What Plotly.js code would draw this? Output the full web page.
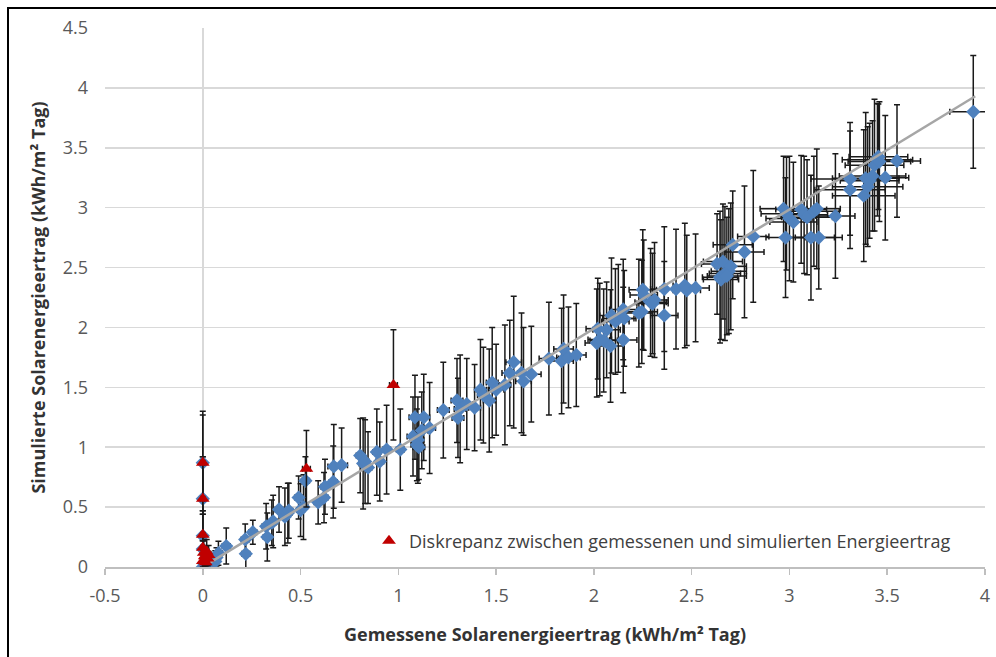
<!DOCTYPE html>
<html>
<head>
<meta charset="utf-8">
<script src="https://cdn.plot.ly/plotly-3.0.1.min.js"></script>
<style>
html,body{margin:0;padding:0;background:#fff;}
#wrap{position:relative;width:996px;height:657px;}
#frame{position:absolute;left:7px;top:7px;width:989px;height:650px;border-left:2px solid #000;border-top:2px solid #000;pointer-events:none;z-index:5;}
#chart{position:absolute;left:0;top:0;width:996px;height:657px;}
</style>
</head>
<body>
<div id="wrap"><div id="chart"></div><div id="frame"></div></div>
<script>
// Measured (x) and simulated (y) solar energy yield, kWh/m² per day
const measuredX = [
 0.00,0.01,0.02,0.03,0.04,0.05,0.064,0.08,0.07,0.12,
 0.217,0.22,0.256,0.324,0.33,0.353,0.36,0.39,0.42,0.435,
 0.44,0.49,0.50,0.515,0.525,0.59,0.62,0.625,0.667,0.67,
 0.71,0.805,0.82,0.845,0.83,0.89,0.905,0.94,1.01,0.00,
 0.00,0.00,0.00,1.085,1.075,1.095,1.10,1.12,1.13,1.16,
 1.105,1.23,1.30,1.305,1.316,1.35,1.39,1.42,1.435,1.465,
 1.48,1.50,1.545,1.57,1.59,1.63,1.64,1.68,1.77,1.835,
 1.845,1.87,1.91,2.015,2.02,2.03,2.05,2.065,2.085,2.09,
 2.11,2.125,2.15,2.155,2.15,2.23,2.245,2.25,2.255,2.29,
 2.30,2.31,2.36,2.36,2.42,2.465,2.475,2.52,2.63,2.645,
 2.66,2.67,2.69,2.70,2.65,2.68,2.71,2.77,2.815,2.97,
 2.98,2.985,3.00,3.02,3.06,3.075,3.09,3.11,3.125,3.14,
 3.15,3.235,3.31,3.31,3.38,3.39,3.40,3.41,3.425,3.435,
 3.45,3.455,3.46,3.49,3.55,3.94
];
const simulatedY = [
 0.00,0.02,0.03,0.05,0.02,0.04,0.045,0.115,0.08,0.175,
 0.23,0.11,0.29,0.34,0.25,0.37,0.38,0.48,0.42,0.45,
 0.47,0.58,0.475,0.50,0.72,0.54,0.58,0.67,0.71,0.84,
 0.85,0.93,0.865,0.83,0.88,0.96,0.88,0.98,0.98,0.87,
 0.57,0.26,0.15,1.25,1.09,1.02,1.06,1.14,1.25,1.16,
 1.00,1.31,1.39,1.245,1.32,1.36,1.33,1.48,1.435,1.39,
 1.54,1.48,1.52,1.62,1.71,1.62,1.55,1.61,1.74,1.72,
 1.82,1.75,1.77,1.87,1.99,1.90,1.89,1.98,1.845,2.10,
 2.05,2.075,2.15,2.075,1.895,2.12,2.13,2.315,2.27,2.21,
 2.20,2.23,2.10,2.32,2.32,2.35,2.31,2.33,2.53,2.42,
 2.55,2.45,2.47,2.51,2.40,2.43,2.69,2.63,2.76,2.99,
 2.75,2.95,2.91,2.88,2.985,2.94,2.92,2.75,2.97,2.99,
 2.75,2.93,3.24,3.15,3.10,3.245,3.175,3.225,3.265,3.355,
 3.40,3.425,3.385,3.25,3.39,3.80
];
const errSim = [
 0.03,0.05,0.06,0.08,0.05,0.07,0.09,0.10,0.08,0.15,
 0.13,0.12,0.10,0.19,0.20,0.19,0.22,0.19,0.24,0.25,
 0.23,0.18,0.22,0.27,0.20,0.18,0.21,0.23,0.30,0.35,
 0.31,0.31,0.38,0.30,0.35,0.36,0.33,0.37,0.34,0.40,
 0.35,0.18,0.12,0.35,0.33,0.30,0.36,0.32,0.36,0.38,
 0.27,0.40,0.35,0.33,0.45,0.38,0.36,0.42,0.40,0.43,
 0.46,0.38,0.50,0.44,0.55,0.50,0.45,0.40,0.47,0.44,
 0.45,0.42,0.43,0.45,0.42,0.47,0.43,0.40,0.47,0.48,
 0.44,0.45,0.42,0.40,0.44,0.45,0.43,0.50,0.46,0.45,
 0.42,0.48,0.45,0.52,0.50,0.52,0.46,0.45,0.42,0.55,
 0.48,0.56,0.52,0.53,0.50,0.49,0.45,0.55,0.55,0.44,
 0.50,0.47,0.52,0.50,0.45,0.49,0.48,0.52,0.46,0.50,
 0.43,0.52,0.47,0.49,0.55,0.55,0.50,0.48,0.46,0.55,
 0.47,0.44,0.50,0.52,0.47,0.47
];
const errMeas = [
 0.01,0.01,0.01,0.01,0.01,0.015,0.015,0.02,0.02,0.02,
 0.02,0.02,0.02,0.02,0.02,0.02,0.02,0.02,0.02,0.02,
 0.02,0.02,0.02,0.02,0.02,0.02,0.02,0.02,0.02,0.03,
 0.03,0.02,0.02,0.02,0.02,0.02,0.02,0.02,0.02,0.01,
 0.01,0.01,0.01,0.03,0.03,0.03,0.03,0.03,0.03,0.03,
 0.03,0.03,0.03,0.03,0.03,0.03,0.03,0.03,0.03,0.03,
 0.03,0.04,0.03,0.04,0.04,0.04,0.04,0.05,0.05,0.06,
 0.05,0.06,0.05,0.06,0.06,0.06,0.07,0.07,0.07,0.06,
 0.07,0.08,0.07,0.06,0.07,0.07,0.08,0.07,0.07,0.08,
 0.08,0.07,0.07,0.07,0.08,0.06,0.07,0.07,0.08,0.09,
 0.10,0.08,0.09,0.08,0.09,0.10,0.10,0.10,0.08,0.12,
 0.10,0.13,0.12,0.12,0.13,0.12,0.13,0.12,0.13,0.12,
 0.12,0.10,0.20,0.18,0.16,0.17,0.18,0.15,0.17,0.15,
 0.18,0.15,0.16,0.12,0.12,0.12
];
// Points with discrepancy between measured and simulated yield
const discX = [0.00,0.00,0.00,0.00,0.005,0.01,0.02,0.025,0.00,0.015,0.03,0.53,0.975];
const discY = [0.87,0.57,0.27,0.16,0.12,0.09,0.13,0.07,0.05,0.04,0.10,0.82,1.52];
const discErrY = [0.43,0.35,0.20,0.12,0.10,0.08,0.10,0.06,0.05,0.04,0.08,0.32,0.46];
const discErrX = [0.01,0.01,0.01,0.01,0.01,0.01,0.01,0.01,0.01,0.01,0.01,0.02,0.02];
// Linear trend line
const trendX = [0.02, 3.95];
const trendY = [0.02, 3.93];

const xTicks = [-0.5,0,0.5,1,1.5,2,2.5,3,3.5,4];
const yTicks = [0,0.5,1,1.5,2,2.5,3,3.5,4,4.5];

const errStyle = {color:'#1a1a1a', thickness:1.5, width:3};

const traces = [
 {
  x: measuredX, y: simulatedY, type:'scatter', mode:'markers', showlegend:false,
  marker:{symbol:'diamond', size:11, color:'#4F81BD'},
  error_y:Object.assign({type:'data', array:errSim, visible:true}, errStyle),
  error_x:Object.assign({type:'data', array:errMeas, visible:true}, errStyle)
 },
 {
  x: trendX, y: trendY, type:'scatter', mode:'lines', showlegend:false,
  line:{color:'#A6A6A6', width:2.5}
 },
 {
  x: discX, y: discY, type:'scatter', mode:'markers',
  name:'Diskrepanz zwischen gemessenen und simulierten Energieertrag',
  marker:{symbol:'triangle-up', size:12, color:'#C00000'},
  error_y:Object.assign({type:'data', array:discErrY, visible:true}, errStyle),
  error_x:Object.assign({type:'data', array:discErrX, visible:true}, errStyle)
 }
];

const tickFont = {family:'"Open Sans", sans-serif', size:18, color:'#595959'};
const titleFont = {family:'"Open Sans", sans-serif', size:18, color:'#333333', weight:'bold'};

const layout = {
 width:996, height:657,
 margin:{l:105, r:11, t:28, b:90},
 paper_bgcolor:'#ffffff', plot_bgcolor:'#ffffff',
 showlegend:true,
 legend:{x:0.3, y:0.048, xanchor:'left', yanchor:'middle', bgcolor:'rgba(0,0,0,0)',
   font:{family:'"Open Sans", sans-serif', size:18, color:'#404040'}},
 xaxis:{
  range:[-0.5,4], tickvals:xTicks, ticktext:xTicks.map(String),
  showgrid:false, zeroline:true, zerolinecolor:'#D9D9D9', zerolinewidth:1.5,
  showline:true, linecolor:'#BFBFBF', linewidth:1.5,
  ticks:'outside', ticklen:6, tickcolor:'#BFBFBF', tickwidth:1.5,
  ticklabelstandoff:6,
  tickfont:tickFont,
  title:{text:'Gemessene Solarenergieertrag (kWh/m² Tag)', font:titleFont, standoff:22},
  automargin:false
 },
 yaxis:{
  range:[0,4.5], tickvals:yTicks, ticktext:yTicks.map(String),
  showgrid:true, gridcolor:'#D9D9D9', gridwidth:1.5,
  zeroline:false, showline:false, ticks:'', ticklabelstandoff:16,
  tickfont:tickFont,
  title:{text:'Simulierte Solarenergieertrag (kWh/m² Tag)', font:titleFont, standoff:12},
  automargin:false
 }
};

Plotly.newPlot('chart', traces, layout, {displayModeBar:false, staticPlot:true});
</script>
</body>
</html>
